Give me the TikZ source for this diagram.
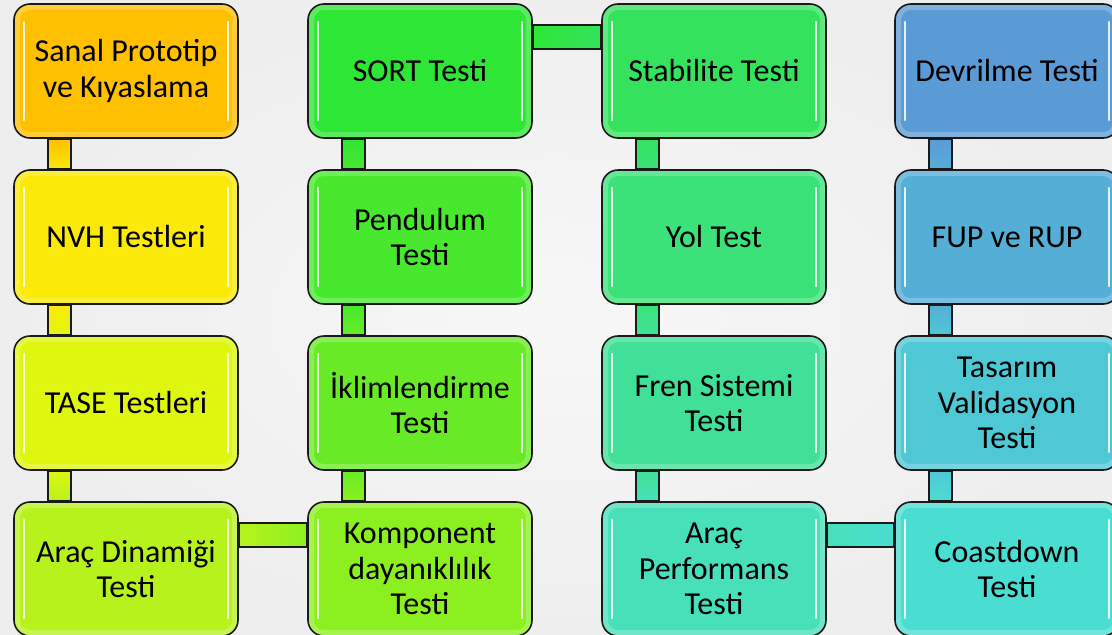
\documentclass[tikz,border=0pt]{standalone}
\usepackage{fontspec}
\setmainfont{Carlito}
\pgfdeclarelayer{bgl}
\pgfdeclarelayer{connl}
\pgfsetlayers{bgl,connl,main}
\definecolor{bgc}{HTML}{EEEEEE}
\definecolor{edge}{HTML}{1A1A1A}
\definecolor{c11}{HTML}{FFC000}
\definecolor{c12}{HTML}{FBE907}
\definecolor{c13}{HTML}{DFF60F}
\definecolor{c14}{HTML}{B8F21D}
\definecolor{c21}{HTML}{2DE635}
\definecolor{c22}{HTML}{48E82E}
\definecolor{c23}{HTML}{68EB26}
\definecolor{c24}{HTML}{8CF020}
\definecolor{c31}{HTML}{34E25E}
\definecolor{c32}{HTML}{3AE279}
\definecolor{c33}{HTML}{40E098}
\definecolor{c34}{HTML}{47E0B9}
\definecolor{c41}{HTML}{5B9BD5}
\definecolor{c42}{HTML}{55AED6}
\definecolor{c43}{HTML}{4FC8D6}
\definecolor{c44}{HTML}{4ADDD1}
\tikzset{
  box/.style={rectangle, rounded corners=16pt, draw=edge, line width=1.6pt,
    fill=#1, minimum width=224pt, minimum height=134pt, inner sep=0pt,
    text width=216pt, align=flush center, font=\fontsize{32}{35.5}\selectfont,
    path picture={
      \draw[white, opacity=0.22, line width=12pt, rounded corners=16pt]
        (path picture bounding box.north west) rectangle (path picture bounding box.south east);
      \draw[white, opacity=0.85, line width=2.6pt, line cap=round]
        ([xshift=10pt,yshift=-18pt]path picture bounding box.north west) --
        ([xshift=10pt,yshift=18pt]path picture bounding box.south west);
      \draw[white, opacity=0.85, line width=2.6pt, line cap=round]
        ([xshift=-10pt,yshift=-18pt]path picture bounding box.north east) --
        ([xshift=-10pt,yshift=18pt]path picture bounding box.south east);
    }},
  vconn/.style 2 args={draw=edge, line width=1.6pt, top color=#1, bottom color=#2},
  hconn/.style 2 args={draw=edge, line width=1.6pt, left color=#1, right color=#2}
}
\begin{document}
\begin{tikzpicture}[x=1pt,y=-1pt]
\useasboundingbox (0,0) rectangle (1112,635);
\begin{pgfonlayer}{bgl}
  \shade[inner color=white!97!black, outer color=bgc] (0,0) rectangle (1112,635);
\end{pgfonlayer}
% column 1
\node[box=c11] (n11) at (126,71)  {Sanal Prototip\\ve Kıyaslama};
\node[box=c12] (n12) at (126,237) {NVH Testleri};
\node[box=c13] (n13) at (126,403) {TASE Testleri};
\node[box=c14] (n14) at (126,569) {Araç Dinamiği\\Testi};
% column 2
\node[box=c21] (n21) at (420,71)  {SORT Testi};
\node[box=c22] (n22) at (420,237) {Pendulum\\Testi};
\node[box=c23] (n23) at (420,403) {İklimlendirme\\Testi};
\node[box=c24] (n24) at (420,569) {Komponent\\dayanıklılık\\Testi};
% column 3
\node[box=c31] (n31) at (714,71)  {Stabilite Testi};
\node[box=c32] (n32) at (714,237) {Yol Test};
\node[box=c33] (n33) at (714,403) {Fren Sistemi\\Testi};
\node[box=c34] (n34) at (714,569) {Araç\\Performans\\Testi};
% column 4
\node[box=c41] (n41) at (1007,71)  {Devrilme Testi};
\node[box=c42] (n42) at (1007,237) {FUP ve RUP};
\node[box=c43] (n43) at (1007,403) {Tasarım\\Validasyon\\Testi};
\node[box=c44] (n44) at (1007,569) {Coastdown\\Testi};
\begin{pgfonlayer}{connl}
  % vertical connectors
  \foreach \c in {1,2,3,4}{
    \foreach \r/\s in {1/2,2/3,3/4}{
      \draw[vconn={c\c\r}{c\c\s}] ([xshift=35pt]n\c\r.south west) rectangle ([xshift=58pt]n\c\s.north west);
    }
  }
  % horizontal connectors
  \draw[hconn={c14}{c24}] ([yshift=-22pt]n14.north east) rectangle ([yshift=-46pt]n24.north west);
  \draw[hconn={c21}{c31}] ([yshift=-22pt]n21.north east) rectangle ([yshift=-46pt]n31.north west);
  \draw[hconn={c34}{c44}] ([yshift=-22pt]n34.north east) rectangle ([yshift=-46pt]n44.north west);
\end{pgfonlayer}
\end{tikzpicture}
\end{document}
